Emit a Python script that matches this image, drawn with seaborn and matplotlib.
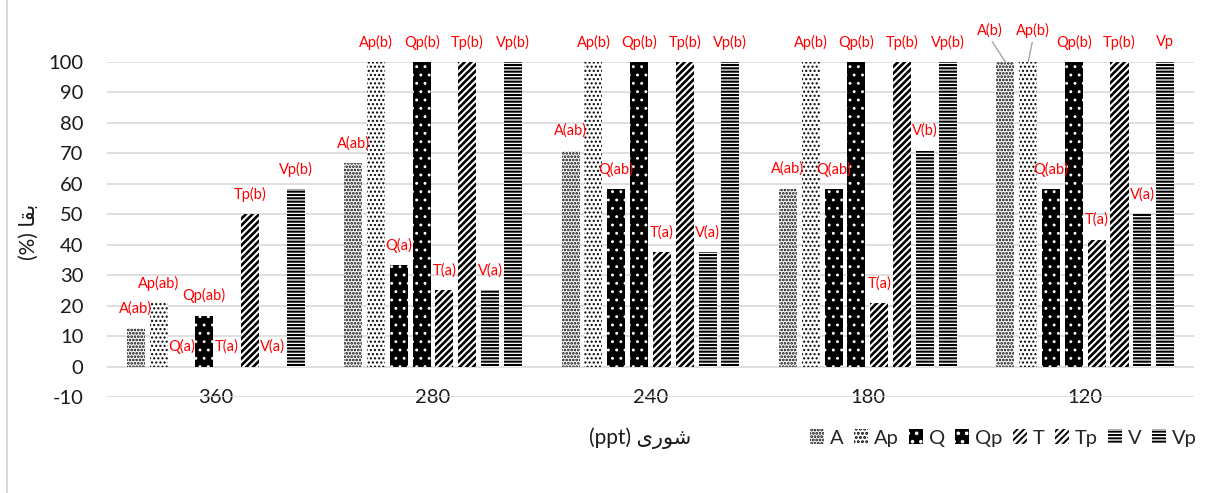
import seaborn as sns
import matplotlib.pyplot as plt
import pandas as pd
from matplotlib.patches import Patch
from matplotlib.lines import Line2D

sns.set_style("white")
plt.rcParams['font.family'] = ['Lato', 'DejaVu Sans']
plt.rcParams['axes.unicode_minus'] = False
plt.rcParams['hatch.linewidth'] = 1.4

# salinity groups and treatments
salinity = ['360', '280', '240', '180', '120']
treatments = ['A', 'Ap', 'Q', 'Qp', 'T', 'Tp', 'V', 'Vp']

# survival (%) per treatment, in salinity order
A = [12.5, 66.7, 70.8, 58.3, 100]
Ap = [20.8, 100, 100, 100, 100]
Q = [0, 33.3, 58.3, 58.3, 58.3]
Qp = [16.7, 100, 100, 100, 100]
T = [0, 25, 37.5, 20.8, 41.7]
Tp = [50, 100, 100, 100, 100]
V = [0, 25, 37.5, 70.8, 50]
Vp = [58.3, 100, 100, 100, 100]

# significance letters
A_lab = ['A(ab)', 'A(ab)', 'A(ab)', 'A(ab)', 'A(b)']
Ap_lab = ['Ap(ab)', 'Ap(b)', 'Ap(b)', 'Ap(b)', 'Ap(b)']
Q_lab = ['Q(a)', 'Q(a)', 'Q(ab)', 'Q(ab)', 'Q(ab)']
Qp_lab = ['Qp(ab)', 'Qp(b)', 'Qp(b)', 'Qp(b)', 'Qp(b)']
T_lab = ['T(a)', 'T(a)', 'T(a)', 'T(a)', 'T(a)']
Tp_lab = ['Tp(b)', 'Tp(b)', 'Tp(b)', 'Tp(b)', 'Tp(b)']
V_lab = ['V(a)', 'V(a)', 'V(a)', 'V(b)', 'V(a)']
Vp_lab = ['Vp(b)', 'Vp(b)', 'Vp(b)', 'Vp(b)', 'Vp']

y_ticks = list(range(-10, 101, 10))

values = [A, Ap, Q, Qp, T, Tp, V, Vp]
labels = [A_lab, Ap_lab, Q_lab, Qp_lab, T_lab, Tp_lab, V_lab, Vp_lab]

rows = []
for t, vals in zip(treatments, values):
    for s, v in zip(salinity, vals):
        rows.append([s, t, v])
df = pd.DataFrame(rows, columns=['salinity', 'treatment', 'survival'])

# hatch style per treatment: (face, hatch colour, hatch, hatch lw)
styles = {
    'A': ('white', 'black', '.....', 1.3),
    'Ap': ('white', 'black', '....', 1.0),
    'Q': ('black', 'white', '..', 0.9),
    'Qp': ('black', 'white', '..', 0.9),
    'T': ('white', 'black', '/////', 1.9),
    'Tp': ('white', 'black', '/////', 1.9),
    'V': ('white', 'black', '-----', 1.5),
    'Vp': ('white', 'black', '-----', 1.5),
}

fig = plt.figure(figsize=(12.14, 4.93), dpi=100)
ax = fig.add_axes([0.0881, 0.1947, 0.8954, 0.6795])

sns.barplot(data=df, x='salinity', y='survival', hue='treatment',
            order=salinity, hue_order=treatments, width=0.84, gap=0.21,
            legend=False, ax=ax)


def style_patch(p, t):
    face, hc, hatch, hlw = styles[t]
    p.set_facecolor(face)
    p.set_edgecolor(hc)
    p.set_linewidth(0)
    p.set_hatch(hatch)
    if hasattr(p, 'set_hatch_linewidth'):
        p.set_hatch_linewidth(hlw)


for t, cont, labs in zip(treatments, ax.containers, labels):
    for i, bar in enumerate(cont):
        style_patch(bar, t)
        xc = bar.get_x() + bar.get_width() / 2
        h = bar.get_height()
        if salinity[i] == '120' and t in ('A', 'Ap'):
            dx = -11.5 if t == 'A' else 3.6
            ax.annotate(labs[i], (xc, h), xytext=(dx, 23), textcoords='offset points',
                        ha='center', va='center', color='red', fontsize=10.5,
                        annotation_clip=False,
                        arrowprops=dict(arrowstyle='-', color='#a6a6a6', lw=1,
                                        relpos=(0.5, 0), shrinkA=1, shrinkB=0))
        else:
            ax.annotate(labs[i], (xc, h), xytext=(0, 14.4), textcoords='offset points',
                        ha='center', va='center', color='red', fontsize=10.5,
                        annotation_clip=False)

ax.set_ylim(-10, 100)
ax.set_xlim(-0.5, 4.5)
ax.set_yticks(y_ticks)
ax.yaxis.grid(True, color='#d9d9d9', lw=1.2)
ax.set_axisbelow(True)
for sp in ax.spines.values():
    sp.set_visible(False)
ax.tick_params(axis='both', length=0, labelsize=14.5, colors='#1a1a1a')
ax.tick_params(axis='y', pad=17)
ax.tick_params(axis='x', pad=0)
for lbl in ax.get_xticklabels():
    lbl.set_va('center')
ax.set_xlabel('')
ax.set_ylabel('')

# persian axis titles (presentation forms, visual order)
fig.text(0.527, 0.1116, '(ppt) \uFBFC\uFEAD\uFEEE\uFEB7', ha='center', va='center',
         fontsize=15, color='#1a1a1a')
fig.text(0.024, 0.53, '(%) \uFE8E\uFED8\uFE91', ha='center', va='center',
         rotation=90, fontsize=15, color='#1a1a1a')

handles = []
for t in treatments:
    face, hc, hatch, hlw = styles[t]
    hp = Patch(facecolor=face, edgecolor=hc, hatch=hatch, linewidth=0, label=t)
    handles.append(hp)
fig.legend(handles=handles, loc='center right', bbox_to_anchor=(0.994, 0.1116),
           ncol=8, frameon=False, fontsize=14.5, handlelength=0.7, handleheight=0.7,
           handletextpad=0.3, columnspacing=0.5, borderpad=0)

fig.add_artist(Line2D([0.006, 0.006], [0, 1], color='#d9d9d9', lw=1.5))

fig.savefig('out.png', dpi=100)
